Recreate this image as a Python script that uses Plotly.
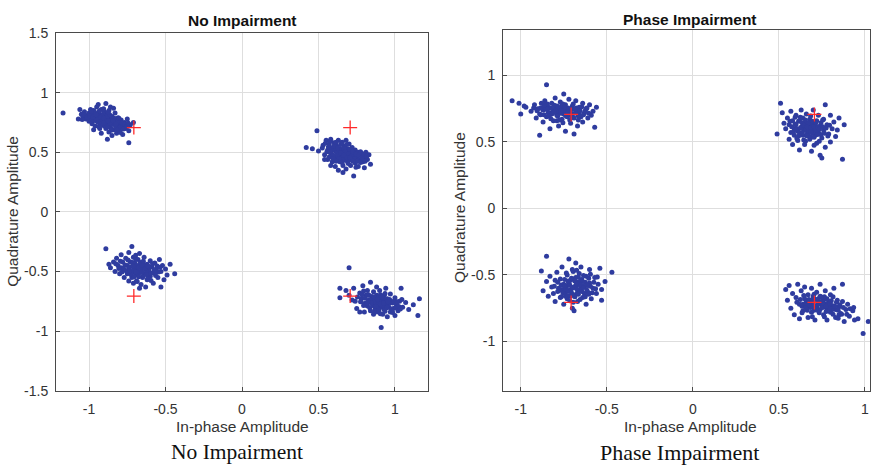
import plotly.graph_objects as go

# Received QPSK symbols (I, Q) per constellation point, no impairment
ni_top_left = [(-1.17,0.83),(-1.06,0.86),(-1.05,0.82),(-1.04,0.80),(-1.03,0.84),(-1.02,0.78),(-1.01,0.81),(-1.00,0.83),(-1.00,0.76),(-0.99,0.86),(-0.99,0.79),(-0.98,0.82),(-0.98,0.74),(-0.97,0.77),(-0.97,0.85),(-0.96,0.80),(-0.96,0.72),(-0.95,0.88),(-0.95,0.78),(-0.94,0.83),(-0.94,0.75),(-0.93,0.81),(-0.93,0.70),(-0.92,0.86),(-0.92,0.77),(-0.91,0.79),(-0.91,0.73),(-0.90,0.84),(-0.90,0.76),(-0.89,0.91),(-0.89,0.80),(-0.89,0.70),(-0.88,0.74),(-0.88,0.82),(-0.87,0.78),(-0.87,0.67),(-0.86,0.88),(-0.86,0.75),(-0.86,0.71),(-0.85,0.80),(-0.85,0.64),(-0.84,0.77),(-0.84,0.69),(-0.83,0.83),(-0.83,0.73),(-0.82,0.76),(-0.82,0.66),(-0.81,0.79),(-0.81,0.71),(-0.80,0.74),(-0.80,0.68),(-0.79,0.77),(-0.78,0.72),(-0.78,0.65),(-0.77,0.75),(-0.76,0.70),(-0.75,0.78),(-0.74,0.68),(-0.74,0.58),(-0.73,0.73),(-0.71,0.75),(-0.88,0.61),(-0.92,0.66),(-0.97,0.69),(-1.07,0.78),(-0.94,0.90),(-0.84,0.87),(-0.90,0.72),(-0.87,0.85),(-0.93,0.76),(-0.88,0.78),(-0.91,0.82),
               (-1.035,0.815),(-1.015,0.795),(-0.995,0.805),(-0.985,0.765),(-0.975,0.795),(-0.965,0.835),(-0.955,0.765),(-0.945,0.805),(-0.935,0.845),(-0.925,0.735),(-0.915,0.805),(-0.905,0.865),(-0.895,0.745),(-0.885,0.795),(-0.875,0.715),(-0.865,0.815),(-0.855,0.765),(-0.845,0.735),(-0.835,0.785),(-0.825,0.705),(-0.815,0.755),(-0.805,0.785),(-0.795,0.715),(-0.785,0.745),(-0.775,0.695),(-0.765,0.735),(-0.755,0.715),(-0.745,0.745),(-0.945,0.775),(-0.925,0.795),(-0.905,0.785),(-0.885,0.765),(-0.865,0.745),(-0.845,0.765),(-0.825,0.735),(-0.905,0.745),(-0.955,0.815),(-0.875,0.835),(-0.815,0.685),(-0.855,0.685),(-1.045,0.775),(-0.985,0.845),(-0.935,0.715),(-0.795,0.665),(-0.875,0.765)]
ni_top_right = [(0.49,0.68),(0.42,0.54),(0.46,0.53),(0.50,0.51),(0.53,0.56),(0.54,0.48),(0.55,0.60),(0.56,0.52),(0.56,0.44),(0.57,0.57),(0.58,0.49),(0.58,0.61),(0.59,0.54),(0.59,0.42),(0.60,0.47),(0.60,0.58),(0.61,0.51),(0.61,0.38),(0.62,0.55),(0.62,0.45),(0.63,0.60),(0.63,0.49),(0.63,0.35),(0.64,0.53),(0.64,0.42),(0.65,0.57),(0.65,0.47),(0.66,0.51),(0.66,0.39),(0.67,0.55),(0.67,0.45),(0.68,0.60),(0.68,0.49),(0.68,0.36),(0.69,0.53),(0.69,0.42),(0.70,0.47),(0.70,0.57),(0.71,0.50),(0.71,0.39),(0.72,0.54),(0.72,0.44),(0.73,0.30),(0.73,0.48),(0.74,0.52),(0.74,0.41),(0.75,0.46),(0.76,0.50),(0.76,0.38),(0.77,0.44),(0.78,0.48),(0.79,0.42),(0.80,0.46),(0.81,0.50),(0.82,0.44),(0.83,0.48),(0.80,0.37),(0.84,0.40),(0.66,0.33),(0.58,0.39),(0.54,0.44),(0.62,0.50),(0.65,0.44),(0.67,0.48),(0.69,0.46),(0.71,0.44),(0.64,0.47),(0.70,0.51),(0.60,0.53),(0.57,0.46),
                (0.525,0.535),(0.545,0.575),(0.555,0.505),(0.565,0.545),(0.575,0.595),(0.585,0.515),(0.595,0.475),(0.605,0.555),(0.615,0.585),(0.625,0.475),(0.635,0.525),(0.645,0.565),(0.655,0.455),(0.665,0.535),(0.675,0.505),(0.685,0.565),(0.695,0.485),(0.705,0.525),(0.715,0.465),(0.725,0.505),(0.735,0.445),(0.745,0.485),(0.755,0.425),(0.765,0.475),(0.775,0.505),(0.785,0.455),(0.795,0.485),(0.805,0.425),(0.815,0.465),(0.635,0.445),(0.655,0.415),(0.675,0.435),(0.695,0.405),(0.615,0.425),(0.595,0.445),(0.645,0.495),(0.665,0.475),(0.685,0.455),(0.705,0.455),(0.725,0.425),(0.575,0.505),(0.625,0.535),(0.655,0.585),(0.745,0.375),(0.775,0.415)]
ni_bottom_left = [(-0.89,-0.31),(-0.87,-0.44),(-0.86,-0.47),(-0.84,-0.42),(-0.83,-0.50),(-0.82,-0.39),(-0.81,-0.45),(-0.80,-0.52),(-0.79,-0.36),(-0.79,-0.47),(-0.78,-0.42),(-0.77,-0.55),(-0.77,-0.49),(-0.76,-0.39),(-0.75,-0.45),(-0.75,-0.52),(-0.74,-0.34),(-0.74,-0.48),(-0.73,-0.42),(-0.72,-0.29),(-0.72,-0.55),(-0.71,-0.46),(-0.71,-0.38),(-0.70,-0.51),(-0.70,-0.43),(-0.69,-0.58),(-0.69,-0.48),(-0.68,-0.40),(-0.68,-0.53),(-0.67,-0.45),(-0.67,-0.35),(-0.66,-0.50),(-0.66,-0.61),(-0.65,-0.42),(-0.65,-0.55),(-0.64,-0.47),(-0.64,-0.38),(-0.63,-0.52),(-0.63,-0.63),(-0.62,-0.44),(-0.62,-0.57),(-0.61,-0.49),(-0.60,-0.41),(-0.60,-0.54),(-0.59,-0.46),(-0.58,-0.60),(-0.58,-0.51),(-0.57,-0.43),(-0.56,-0.48),(-0.55,-0.55),(-0.54,-0.40),(-0.53,-0.63),(-0.53,-0.50),(-0.52,-0.45),(-0.51,-0.57),(-0.50,-0.48),(-0.49,-0.53),(-0.47,-0.44),(-0.44,-0.52),(-0.67,-0.64),(-0.71,-0.60),(-0.74,-0.58),(-0.69,-0.45),(-0.66,-0.47),(-0.63,-0.48),(-0.70,-0.47),(-0.61,-0.52),(-0.72,-0.50),(-0.65,-0.44),(-0.68,-0.50),
                  (-0.825,-0.435),(-0.805,-0.475),(-0.795,-0.415),(-0.785,-0.505),(-0.765,-0.445),(-0.755,-0.495),(-0.745,-0.405),(-0.735,-0.465),(-0.725,-0.525),(-0.715,-0.425),(-0.705,-0.485),(-0.695,-0.395),(-0.685,-0.455),(-0.675,-0.515),(-0.665,-0.425),(-0.655,-0.475),(-0.645,-0.535),(-0.635,-0.445),(-0.625,-0.495),(-0.615,-0.555),(-0.605,-0.465),(-0.595,-0.515),(-0.585,-0.435),(-0.575,-0.485),(-0.565,-0.535),(-0.555,-0.455),(-0.545,-0.505),(-0.535,-0.465),(-0.695,-0.505),(-0.675,-0.465),(-0.655,-0.505),(-0.635,-0.475),(-0.715,-0.455),(-0.735,-0.495),(-0.655,-0.445),(-0.615,-0.455),(-0.675,-0.545),(-0.705,-0.545),(-0.625,-0.525),(-0.695,-0.365),(-0.595,-0.575),(-0.775,-0.475),(-0.645,-0.415),(-0.685,-0.585),(-0.565,-0.505)]
ni_bottom_right = [(0.70,-0.47),(0.64,-0.64),(0.64,-0.72),(0.68,-0.66),(0.70,-0.70),(0.73,-0.64),(0.74,-0.75),(0.75,-0.81),(0.77,-0.68),(0.78,-0.73),(0.79,-0.62),(0.80,-0.77),(0.80,-0.84),(0.81,-0.70),(0.82,-0.66),(0.82,-0.79),(0.83,-0.74),(0.84,-0.59),(0.84,-0.83),(0.85,-0.71),(0.85,-0.77),(0.86,-0.67),(0.86,-0.86),(0.87,-0.74),(0.87,-0.80),(0.88,-0.63),(0.88,-0.70),(0.89,-0.77),(0.89,-0.84),(0.90,-0.73),(0.90,-0.66),(0.91,-0.80),(0.91,-0.97),(0.92,-0.75),(0.92,-0.86),(0.93,-0.70),(0.93,-0.82),(0.94,-0.77),(0.94,-0.64),(0.95,-0.73),(0.95,-0.88),(0.96,-0.80),(0.97,-0.69),(0.97,-0.84),(0.98,-0.76),(0.99,-0.81),(1.00,-0.72),(1.00,-0.87),(1.01,-0.78),(1.02,-0.83),(1.03,-0.75),(1.04,-0.64),(1.05,-0.80),(1.07,-0.76),(1.09,-0.82),(1.12,-0.78),(1.16,-0.73),(1.15,-0.87),(0.72,-0.74),(0.77,-0.84),(0.86,-0.76),(0.88,-0.78),(0.91,-0.76),(0.93,-0.79),(0.84,-0.74),(0.89,-0.72),(0.96,-0.77),(0.87,-0.82),(0.83,-0.70),(0.92,-0.79),
                   (0.755,-0.715),(0.775,-0.755),(0.785,-0.695),(0.795,-0.785),(0.805,-0.725),(0.815,-0.765),(0.825,-0.695),(0.835,-0.805),(0.845,-0.735),(0.855,-0.785),(0.865,-0.715),(0.875,-0.765),(0.885,-0.805),(0.895,-0.745),(0.905,-0.695),(0.915,-0.785),(0.925,-0.725),(0.935,-0.835),(0.945,-0.755),(0.955,-0.795),(0.965,-0.735),(0.975,-0.815),(0.985,-0.765),(0.995,-0.745),(1.005,-0.805),(1.015,-0.755),(1.025,-0.795),(1.035,-0.815),(0.865,-0.755),(0.885,-0.735),(0.905,-0.775),(0.925,-0.765),(0.945,-0.805),(0.875,-0.795),(0.845,-0.765),(0.895,-0.825),(0.915,-0.715),(0.955,-0.755),(0.825,-0.755),(0.935,-0.685),(0.865,-0.845),(0.985,-0.845),(1.045,-0.735),(0.795,-0.665),(0.905,-0.855)]

# Received symbols with phase impairment
pi_top_left = [(-1.05,0.81),(-1.01,0.79),(-1.00,0.71),(-0.98,0.77),(-0.97,0.76),(-0.94,0.73),(-0.92,0.78),(-0.91,0.68),(-0.90,0.75),(-0.89,0.55),(-0.89,0.71),(-0.88,0.79),(-0.87,0.65),(-0.87,0.74),(-0.86,0.81),(-0.85,0.93),(-0.85,0.69),(-0.84,0.76),(-0.83,0.60),(-0.83,0.72),(-0.82,0.79),(-0.81,0.66),(-0.81,0.74),(-0.80,0.83),(-0.79,0.70),(-0.79,0.77),(-0.78,0.62),(-0.78,0.73),(-0.77,0.80),(-0.76,0.67),(-0.76,0.75),(-0.75,0.86),(-0.75,0.71),(-0.74,0.58),(-0.74,0.78),(-0.73,0.69),(-0.72,0.74),(-0.72,0.82),(-0.71,0.64),(-0.70,0.71),(-0.70,0.77),(-0.69,0.56),(-0.69,0.68),(-0.68,0.81),(-0.67,0.73),(-0.67,0.62),(-0.66,0.76),(-0.65,0.69),(-0.64,0.79),(-0.64,0.65),(-0.63,0.72),(-0.62,0.75),(-0.61,0.68),(-0.60,0.78),(-0.59,0.70),(-0.58,0.73),(-0.57,0.61),(-0.56,0.76),(-0.80,0.75),(-0.77,0.72),(-0.73,0.75),(-0.82,0.71),(-0.76,0.78),(-0.71,0.72),(-0.79,0.66),(-0.84,0.72),(-0.68,0.75),(-0.74,0.70),(-0.86,0.76),(-0.66,0.71),
               (-0.905,0.735),(-0.885,0.755),(-0.865,0.705),(-0.855,0.745),(-0.845,0.785),(-0.835,0.695),(-0.825,0.755),(-0.815,0.715),(-0.805,0.775),(-0.795,0.735),(-0.785,0.695),(-0.775,0.755),(-0.765,0.715),(-0.755,0.785),(-0.745,0.735),(-0.735,0.695),(-0.725,0.755),(-0.715,0.705),(-0.705,0.745),(-0.695,0.785),(-0.685,0.715),(-0.675,0.755),(-0.665,0.695),(-0.655,0.735),(-0.645,0.765),(-0.635,0.705),(-0.625,0.735),(-0.615,0.755),(-0.605,0.715),(-0.805,0.725),(-0.785,0.765),(-0.765,0.735),(-0.745,0.765),(-0.725,0.725),(-0.705,0.695),(-0.685,0.745),(-0.845,0.745),(-0.865,0.775),(-0.825,0.675),(-0.775,0.665),(-0.715,0.665),(-0.755,0.645),(-0.665,0.665),(-0.885,0.705),(-0.925,0.755)]
pi_top_right = [(0.49,0.56),(0.51,0.79),(0.52,0.72),(0.53,0.64),(0.54,0.60),(0.55,0.68),(0.56,0.52),(0.56,0.63),(0.57,0.57),(0.57,0.73),(0.58,0.48),(0.58,0.66),(0.59,0.60),(0.59,0.55),(0.60,0.70),(0.60,0.63),(0.61,0.51),(0.61,0.58),(0.62,0.66),(0.62,0.44),(0.63,0.61),(0.63,0.74),(0.64,0.55),(0.64,0.68),(0.65,0.59),(0.65,0.48),(0.66,0.64),(0.66,0.71),(0.67,0.56),(0.67,0.61),(0.68,0.52),(0.68,0.67),(0.69,0.58),(0.69,0.43),(0.70,0.63),(0.70,0.74),(0.71,0.55),(0.71,0.60),(0.72,0.66),(0.72,0.49),(0.73,0.57),(0.73,0.70),(0.74,0.62),(0.74,0.40),(0.75,0.53),(0.76,0.59),(0.76,0.67),(0.77,0.78),(0.77,0.46),(0.78,0.63),(0.79,0.56),(0.80,0.70),(0.80,0.50),(0.81,0.60),(0.82,0.65),(0.83,0.54),(0.84,0.59),(0.85,0.68),(0.87,0.37),(0.88,0.63),(0.75,0.38),(0.64,0.60),(0.67,0.58),(0.70,0.59),(0.62,0.57),(0.68,0.63),(0.65,0.62),(0.72,0.57),(0.66,0.55),(0.69,0.61),
                (0.575,0.615),(0.585,0.575),(0.595,0.635),(0.605,0.595),(0.615,0.655),(0.615,0.545),(0.625,0.605),(0.635,0.645),(0.635,0.565),(0.645,0.625),(0.645,0.515),(0.655,0.585),(0.655,0.665),(0.665,0.545),(0.665,0.615),(0.675,0.645),(0.675,0.585),(0.685,0.535),(0.685,0.605),(0.695,0.655),(0.695,0.565),(0.705,0.615),(0.705,0.535),(0.715,0.585),(0.715,0.645),(0.725,0.555),(0.725,0.615),(0.735,0.595),(0.745,0.555),(0.745,0.645),(0.755,0.615),(0.765,0.565),(0.775,0.605),(0.785,0.545),(0.795,0.625),(0.605,0.525),(0.625,0.685),(0.655,0.505),(0.685,0.695),(0.705,0.475),(0.735,0.505),(0.565,0.655),(0.595,0.685),(0.755,0.665),(0.685,0.575)]
pi_bottom_left = [(-0.85,-0.36),(-0.88,-0.47),(-0.87,-0.62),(-0.85,-0.55),(-0.84,-0.66),(-0.83,-0.51),(-0.82,-0.59),(-0.81,-0.64),(-0.80,-0.54),(-0.80,-0.70),(-0.79,-0.48),(-0.78,-0.60),(-0.77,-0.67),(-0.77,-0.53),(-0.76,-0.44),(-0.75,-0.57),(-0.75,-0.72),(-0.74,-0.63),(-0.73,-0.50),(-0.73,-0.68),(-0.72,-0.38),(-0.72,-0.56),(-0.71,-0.61),(-0.70,-0.46),(-0.70,-0.75),(-0.69,-0.53),(-0.69,-0.65),(-0.68,-0.41),(-0.68,-0.58),(-0.67,-0.70),(-0.66,-0.49),(-0.66,-0.62),(-0.65,-0.55),(-0.65,-0.44),(-0.64,-0.67),(-0.63,-0.59),(-0.62,-0.51),(-0.62,-0.72),(-0.61,-0.63),(-0.60,-0.46),(-0.60,-0.56),(-0.59,-0.68),(-0.58,-0.60),(-0.57,-0.52),(-0.56,-0.64),(-0.55,-0.57),(-0.54,-0.45),(-0.53,-0.69),(-0.53,-0.61),(-0.51,-0.55),(-0.47,-0.48),(-0.69,-0.77),(-0.74,-0.66),(-0.67,-0.57),(-0.71,-0.54),(-0.64,-0.58),(-0.70,-0.60),(-0.66,-0.55),(-0.72,-0.62),(-0.68,-0.52),(-0.63,-0.64),(-0.76,-0.61),(-0.61,-0.58),(-0.67,-0.63),(-0.73,-0.58),(-0.65,-0.60),(-0.69,-0.59),(-0.71,-0.66),
                  (-0.805,-0.585),(-0.785,-0.555),(-0.775,-0.615),(-0.765,-0.575),(-0.755,-0.635),(-0.745,-0.535),(-0.735,-0.605),(-0.725,-0.655),(-0.715,-0.575),(-0.705,-0.525),(-0.705,-0.635),(-0.695,-0.595),(-0.685,-0.545),(-0.685,-0.665),(-0.675,-0.605),(-0.665,-0.515),(-0.665,-0.645),(-0.655,-0.575),(-0.645,-0.535),(-0.645,-0.625),(-0.635,-0.595),(-0.625,-0.555),(-0.625,-0.665),(-0.615,-0.615),(-0.605,-0.525),(-0.595,-0.585),(-0.585,-0.635),(-0.575,-0.555),(-0.565,-0.605),(-0.555,-0.515),(-0.745,-0.585),(-0.725,-0.545),(-0.715,-0.695),(-0.695,-0.475),(-0.675,-0.565),(-0.655,-0.685),(-0.635,-0.505),(-0.615,-0.575),(-0.605,-0.645),(-0.765,-0.665),(-0.785,-0.625),(-0.695,-0.705),(-0.675,-0.465),(-0.735,-0.485),(-0.595,-0.495)]
pi_bottom_right = [(0.54,-0.61),(0.55,-0.69),(0.56,-0.58),(0.57,-0.75),(0.58,-0.64),(0.59,-0.80),(0.60,-0.67),(0.61,-0.57),(0.62,-0.72),(0.62,-0.83),(0.63,-0.62),(0.64,-0.77),(0.65,-0.68),(0.65,-0.59),(0.66,-0.74),(0.67,-0.82),(0.67,-0.65),(0.68,-0.71),(0.69,-0.60),(0.69,-0.78),(0.70,-0.68),(0.71,-0.74),(0.71,-0.84),(0.72,-0.63),(0.73,-0.70),(0.73,-0.77),(0.74,-0.57),(0.74,-0.66),(0.75,-0.73),(0.76,-0.80),(0.76,-0.69),(0.77,-0.62),(0.78,-0.75),(0.78,-0.84),(0.79,-0.70),(0.80,-0.65),(0.80,-0.78),(0.81,-0.73),(0.82,-0.60),(0.83,-0.76),(0.83,-0.82),(0.84,-0.69),(0.85,-0.74),(0.86,-0.79),(0.87,-0.57),(0.87,-0.70),(0.88,-0.85),(0.89,-0.76),(0.90,-0.72),(0.91,-0.81),(0.93,-0.77),(0.94,-0.84),(0.96,-0.83),(0.99,-0.94),(1.02,-0.85),(0.70,-0.72),(0.72,-0.75),(0.75,-0.70),(0.77,-0.72),(0.68,-0.74),(0.74,-0.76),(0.79,-0.73),(0.66,-0.70),(0.81,-0.76),(0.73,-0.68),(0.76,-0.74),(0.70,-0.66),(0.78,-0.68),(0.85,-0.80),(0.64,-0.72),
                   (0.605,-0.705),(0.625,-0.685),(0.635,-0.735),(0.645,-0.655),(0.655,-0.715),(0.665,-0.765),(0.675,-0.685),(0.685,-0.745),(0.695,-0.705),(0.705,-0.765),(0.715,-0.685),(0.725,-0.725),(0.735,-0.785),(0.745,-0.705),(0.755,-0.745),(0.765,-0.665),(0.775,-0.775),(0.785,-0.715),(0.795,-0.755),(0.805,-0.695),(0.815,-0.795),(0.825,-0.735),(0.835,-0.705),(0.845,-0.765),(0.855,-0.725),(0.865,-0.795),(0.875,-0.745),(0.895,-0.795),(0.915,-0.755),(0.695,-0.735),(0.715,-0.755),(0.735,-0.715),(0.755,-0.715),(0.775,-0.735),(0.795,-0.715),(0.675,-0.725),(0.655,-0.745),(0.745,-0.665),(0.705,-0.645),(0.635,-0.785),(0.765,-0.815),(0.815,-0.665),(0.845,-0.825),(0.695,-0.815),(0.935,-0.745)]

# Ideal QPSK reference constellation
ref_i = [0.7071, -0.7071, -0.7071, 0.7071]
ref_q = [0.7071, 0.7071, -0.7071, -0.7071]

ticks_x = [-1, -0.5, 0, 0.5, 1]
ticks_y_left = [-1.5, -1, -0.5, 0, 0.5, 1, 1.5]
ticks_y_right = [-1, -0.5, 0, 0.5, 1]

DOT = "#2f3c9f"
PLUS = "#ff2a2a"
W, H = 873, 473


def points(clusters):
    xs, ys = [], []
    for c in clusters:
        xs += [p[0] for p in c]
        ys += [p[1] for p in c]
    return xs, ys


fig = go.Figure()

for clusters, xa, ya in [
    ([ni_top_left, ni_top_right, ni_bottom_left, ni_bottom_right], "x", "y"),
    ([pi_top_left, pi_top_right, pi_bottom_left, pi_bottom_right], "x2", "y2"),
]:
    xs, ys = points(clusters)
    fig.add_trace(go.Scatter(
        x=xs, y=ys, mode="markers", xaxis=xa, yaxis=ya,
        marker=dict(color=DOT, size=5, line=dict(width=0)),
        showlegend=False, hoverinfo="skip"))
    fig.add_trace(go.Scatter(
        x=ref_i, y=ref_q, mode="markers", xaxis=xa, yaxis=ya,
        marker=dict(symbol="cross-thin", size=10, line=dict(color=PLUS, width=1.3)),
        showlegend=False, hoverinfo="skip"))

tick_font = dict(family="Liberation Sans, Arial, sans-serif", size=14, color="#333333")
axis_common = dict(
    showgrid=True, gridcolor="#dedede", gridwidth=1,
    zeroline=False, showline=True, linecolor="#4a4a4a", linewidth=1,
    mirror=True, ticks="inside", ticklen=4, tickcolor="#4a4a4a",
    tickfont=tick_font,
)
x_axis_common = dict(axis_common, ticklabelstandoff=6)
y_axis_common = dict(axis_common, ticklabelstandoff=4)


def px_x(p):
    return p / W


def px_y(p):
    return 1 - p / H


fig.update_layout(
    width=W, height=H,
    margin=dict(l=0, r=0, t=0, b=0),
    paper_bgcolor="white", plot_bgcolor="white",
    xaxis=dict(domain=[px_x(56), px_x(428)], range=[-1.216, 1.216],
               tickvals=ticks_x, ticktext=["-1", "-0.5", "0", "0.5", "1"],
               anchor="y", **x_axis_common),
    yaxis=dict(domain=[px_y(396), px_y(26)], range=[-1.5, 1.5],
               tickvals=ticks_y_left,
               ticktext=["-1.5", "-1", "-0.5", "0", "0.5", "1", "1.5"],
               anchor="x", **y_axis_common),
    xaxis2=dict(domain=[px_x(503), px_x(870)], range=[-1.103, 1.03],
                tickvals=ticks_x, ticktext=["-1", "-0.5", "0", "0.5", "1"],
                anchor="y2", **x_axis_common),
    yaxis2=dict(domain=[px_y(396), px_y(23)], range=[-1.37, 1.34],
                tickvals=ticks_y_right,
                ticktext=["-1", "-0.5", "0", "0.5", "1"],
                anchor="x2", **y_axis_common),
)

sans = "Liberation Sans, Arial, sans-serif"
serif = "Liberation Serif, Times New Roman, serif"
labels = [
    ("<b>No Impairment</b>", 242, 13, 15.5, sans, "#111111", 0),
    ("<b>Phase Impairment</b>", 690, 12, 15.5, sans, "#111111", 0),
    ("In-phase Amplitude", 242, 433, 15.5, sans, "#333333", 0),
    ("In-phase Amplitude", 690, 433, 15.5, sans, "#333333", 0),
    ("Quadrature Amplitude", 13, 211, 15.5, sans, "#333333", -90),
    ("Quadrature Amplitude", 460, 207, 15.5, sans, "#333333", -90),
    ("No Impairment", 237, 460, 21.5, serif, "#111111", 0),
    ("Phase Impairment", 679, 460, 22, serif, "#111111", 0),
]
for text, x, y, size, family, color, angle in labels:
    fig.add_annotation(
        text=text, x=px_x(x), y=px_y(y), xref="paper", yref="paper",
        xanchor="center", yanchor="middle", showarrow=False, textangle=angle,
        font=dict(family=family, size=size, color=color))

fig.write_html("out.html")
